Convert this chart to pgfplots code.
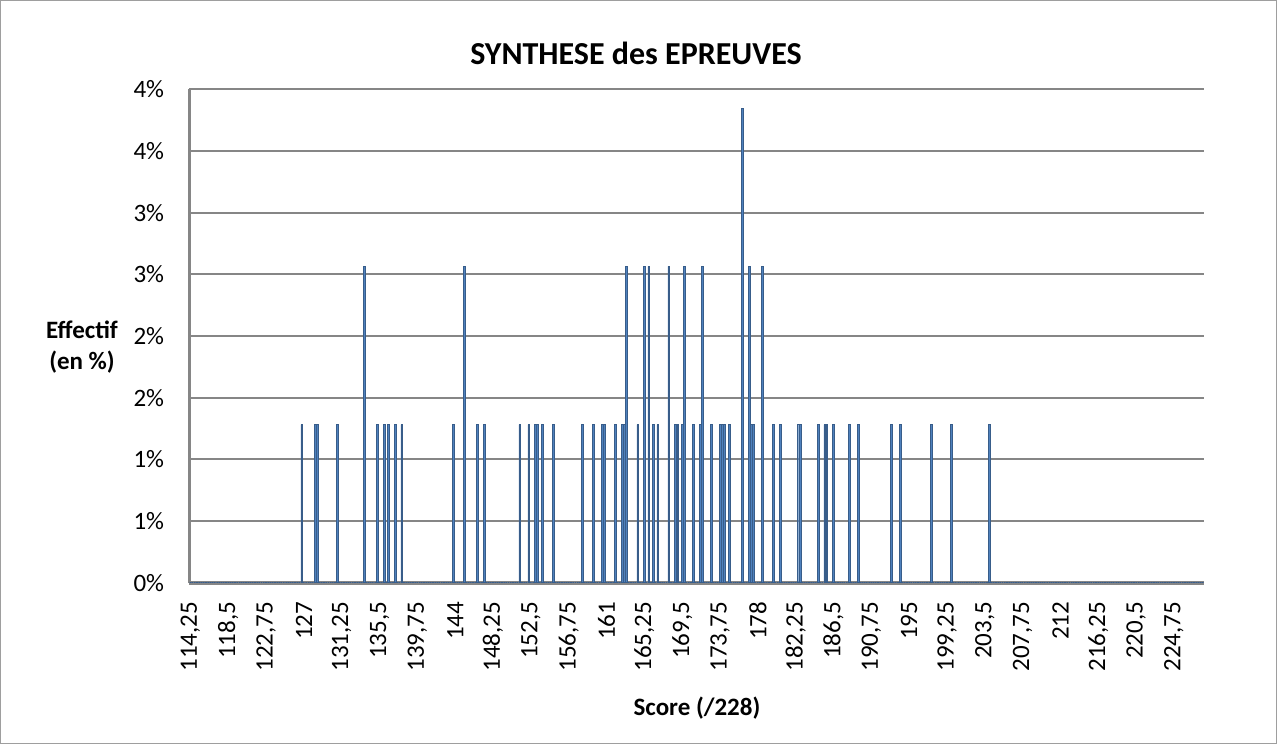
\documentclass[border=0pt]{standalone}
\usepackage{pgfplots}
\pgfplotsset{compat=1.18}
\usepackage{fontspec}
\setmainfont{Carlito}
\definecolor{seriefill}{RGB}{79,129,189}
\definecolor{seriedraw}{RGB}{56,93,138}
\definecolor{grille}{RGB}{134,134,134}
\begin{document}
\begin{tikzpicture}
\useasboundingbox (0bp,0bp) rectangle (1277bp,744bp);
\draw[grille!80, line width=1.2bp] (0.8bp,0.8bp) rectangle (1276.2bp,743.2bp);
\begin{axis}[
  at={(189.3bp,161.3bp)}, anchor=south west,
  width=1014.7bp, height=493.4bp, scale only axis,
  xmin=114.125, xmax=228.125, ymin=0, ymax=4,
  clip=false,
  axis x line*=bottom, axis y line*=left,
  x axis line style={-, draw=grille, line width=4bp},
  y axis line style={-, draw=grille, line width=3bp},
  major tick length=0pt,
  ymajorgrids, grid style={draw=grille, line width=2bp},
  /pgf/number format/assume math mode=true,
  xtick={114.25,118.5,122.75,127,131.25,135.5,139.75,144,148.25,152.5,156.75,161,165.25,169.5,173.75,178,182.25,186.5,190.75,195,199.25,203.5,207.75,212,216.25,220.5,224.75},
  xticklabels={{114,25},{118,5},{122,75},{127},{131,25},{135,5},{139,75},{144},{148,25},{152,5},{156,75},{161},{165,25},{169,5},{173,75},{178},{182,25},{186,5},{190,75},{195},{199,25},{203,5},{207,75},{212},{216,25},{220,5},{224,75}},
  ytick={0,0.5,1,1.5,2,2.5,3,3.5,4},
  yticklabels={0\%,1\%,1\%,2\%,2\%,3\%,3\%,4\%,4\%},
  xticklabel style={rotate=90, anchor=east, inner sep=0pt, font=\fontsize{25bp}{30bp}\selectfont},
  yticklabel style={anchor=east, inner sep=0pt, font=\fontsize{25bp}{30bp}\selectfont},
  xticklabel shift=19bp,
  yticklabel shift=25bp,
]
\addplot[ybar, bar width=0.19, fill=seriefill, draw=seriedraw, line width=0.45bp] coordinates {
(114.25,0)(114.5,0)(114.75,0)
(115,0)(115.25,0)(115.5,0)(115.75,0)
(116,0)(116.25,0)(116.5,0)(116.75,0)
(117,0)(117.25,0)(117.5,0)(117.75,0)
(118,0)(118.25,0)(118.5,0)(118.75,0)
(119,0)(119.25,0)(119.5,0)(119.75,0)
(120,0)(120.25,0)(120.5,0)(120.75,0)
(121,0)(121.25,0)(121.5,0)(121.75,0)
(122,0)(122.25,0)(122.5,0)(122.75,0)
(123,0)(123.25,0)(123.5,0)(123.75,0)
(124,0)(124.25,0)(124.5,0)(124.75,0)
(125,0)(125.25,0)(125.5,0)(125.75,0)
(126,0)(126.25,0)(126.5,0)(126.75,1.282)
(127,0)(127.25,0)(127.5,0)(127.75,0)
(128,0)(128.25,1.282)(128.5,1.282)(128.75,0)
(129,0)(129.25,0)(129.5,0)(129.75,0)
(130,0)(130.25,0)(130.5,0)(130.75,1.282)
(131,0)(131.25,0)(131.5,0)(131.75,0)
(132,0)(132.25,0)(132.5,0)(132.75,0)
(133,0)(133.25,0)(133.5,0)(133.75,2.564)
(134,0)(134.25,0)(134.5,0)(134.75,0)
(135,0)(135.25,1.282)(135.5,0)(135.75,0)
(136,1.282)(136.25,0)(136.5,1.282)(136.75,0)
(137,0)(137.25,1.282)(137.5,0)(137.75,0)
(138,1.282)(138.25,0)(138.5,0)(138.75,0)
(139,0)(139.25,0)(139.5,0)(139.75,0)
(140,0)(140.25,0)(140.5,0)(140.75,0)
(141,0)(141.25,0)(141.5,0)(141.75,0)
(142,0)(142.25,0)(142.5,0)(142.75,0)
(143,0)(143.25,0)(143.5,0)(143.75,1.282)
(144,0)(144.25,0)(144.5,0)(144.75,0)
(145,2.564)(145.25,0)(145.5,0)(145.75,0)
(146,0)(146.25,0)(146.5,1.282)(146.75,0)
(147,0)(147.25,1.282)(147.5,0)(147.75,0)
(148,0)(148.25,0)(148.5,0)(148.75,0)
(149,0)(149.25,0)(149.5,0)(149.75,0)
(150,0)(150.25,0)(150.5,0)(150.75,0)
(151,0)(151.25,1.282)(151.5,0)(151.75,0)
(152,0)(152.25,1.282)(152.5,0)(152.75,0)
(153,1.282)(153.25,1.282)(153.5,0)(153.75,1.282)
(154,0)(154.25,0)(154.5,0)(154.75,0)
(155,1.282)(155.25,0)(155.5,0)(155.75,0)
(156,0)(156.25,0)(156.5,0)(156.75,0)
(157,0)(157.25,0)(157.5,0)(157.75,0)
(158,0)(158.25,1.282)(158.5,0)(158.75,0)
(159,0)(159.25,0)(159.5,1.282)(159.75,0)
(160,0)(160.25,0)(160.5,1.282)(160.75,1.282)
(161,0)(161.25,0)(161.5,0)(161.75,0)
(162,1.282)(162.25,0)(162.5,0)(162.75,1.282)
(163,1.282)(163.25,2.564)(163.5,0)(163.75,0)
(164,0)(164.25,0)(164.5,1.282)(164.75,0)
(165,0)(165.25,2.564)(165.5,0)(165.75,2.564)
(166,0)(166.25,1.282)(166.5,0)(166.75,1.282)
(167,0)(167.25,0)(167.5,0)(167.75,0)
(168,2.564)(168.25,0)(168.5,0)(168.75,1.282)
(169,1.282)(169.25,0)(169.5,1.282)(169.75,2.564)
(170,0)(170.25,0)(170.5,0)(170.75,1.282)
(171,0)(171.25,0)(171.5,1.282)(171.75,2.564)
(172,0)(172.25,0)(172.5,0)(172.75,1.282)
(173,0)(173.25,0)(173.5,0)(173.75,1.282)
(174,1.282)(174.25,1.282)(174.5,0)(174.75,1.282)
(175,0)(175.25,0)(175.5,0)(175.75,0)
(176,0)(176.25,3.846)(176.5,0)(176.75,0)
(177,2.564)(177.25,1.282)(177.5,1.282)(177.75,0)
(178,0)(178.25,0)(178.5,2.564)(178.75,0)
(179,0)(179.25,0)(179.5,0)(179.75,1.282)
(180,0)(180.25,0)(180.5,1.282)(180.75,0)
(181,0)(181.25,0)(181.5,0)(181.75,0)
(182,0)(182.25,0)(182.5,1.282)(182.75,1.282)
(183,0)(183.25,0)(183.5,0)(183.75,0)
(184,0)(184.25,0)(184.5,0)(184.75,1.282)
(185,0)(185.25,0)(185.5,1.282)(185.75,1.282)
(186,0)(186.25,0)(186.5,1.282)(186.75,0)
(187,0)(187.25,0)(187.5,0)(187.75,0)
(188,0)(188.25,1.282)(188.5,0)(188.75,0)
(189,0)(189.25,1.282)(189.5,0)(189.75,0)
(190,0)(190.25,0)(190.5,0)(190.75,0)
(191,0)(191.25,0)(191.5,0)(191.75,0)
(192,0)(192.25,0)(192.5,0)(192.75,0)
(193,1.282)(193.25,0)(193.5,0)(193.75,0)
(194,1.282)(194.25,0)(194.5,0)(194.75,0)
(195,0)(195.25,0)(195.5,0)(195.75,0)
(196,0)(196.25,0)(196.5,0)(196.75,0)
(197,0)(197.25,0)(197.5,1.282)(197.75,0)
(198,0)(198.25,0)(198.5,0)(198.75,0)
(199,0)(199.25,0)(199.5,0)(199.75,1.282)
(200,0)(200.25,0)(200.5,0)(200.75,0)
(201,0)(201.25,0)(201.5,0)(201.75,0)
(202,0)(202.25,0)(202.5,0)(202.75,0)
(203,0)(203.25,0)(203.5,0)(203.75,0)
(204,1.282)(204.25,0)(204.5,0)(204.75,0)
(205,0)(205.25,0)(205.5,0)(205.75,0)
(206,0)(206.25,0)(206.5,0)(206.75,0)
(207,0)(207.25,0)(207.5,0)(207.75,0)
(208,0)(208.25,0)(208.5,0)(208.75,0)
(209,0)(209.25,0)(209.5,0)(209.75,0)
(210,0)(210.25,0)(210.5,0)(210.75,0)
(211,0)(211.25,0)(211.5,0)(211.75,0)
(212,0)(212.25,0)(212.5,0)(212.75,0)
(213,0)(213.25,0)(213.5,0)(213.75,0)
(214,0)(214.25,0)(214.5,0)(214.75,0)
(215,0)(215.25,0)(215.5,0)(215.75,0)
(216,0)(216.25,0)(216.5,0)(216.75,0)
(217,0)(217.25,0)(217.5,0)(217.75,0)
(218,0)(218.25,0)(218.5,0)(218.75,0)
(219,0)(219.25,0)(219.5,0)(219.75,0)
(220,0)(220.25,0)(220.5,0)(220.75,0)
(221,0)(221.25,0)(221.5,0)(221.75,0)
(222,0)(222.25,0)(222.5,0)(222.75,0)
(223,0)(223.25,0)(223.5,0)(223.75,0)
(224,0)(224.25,0)(224.5,0)(224.75,0)
(225,0)(225.25,0)(225.5,0)(225.75,0)
(226,0)(226.25,0)(226.5,0)(226.75,0)
(227,0)(227.25,0)(227.5,0)(227.75,0)
(228,0)
};
\end{axis}
\node[font=\bfseries\fontsize{32bp}{38bp}\selectfont] at (636bp,691bp) {SYNTHESE des EPREUVES};
\node[font=\bfseries\fontsize{25bp}{31bp}\selectfont, align=center] at (82bp,397bp) {Effectif\\(en \%)};
\node[font=\bfseries\fontsize{25bp}{30bp}\selectfont] at (697bp,36bp) {Score (/228)};
\end{tikzpicture}
\end{document}
